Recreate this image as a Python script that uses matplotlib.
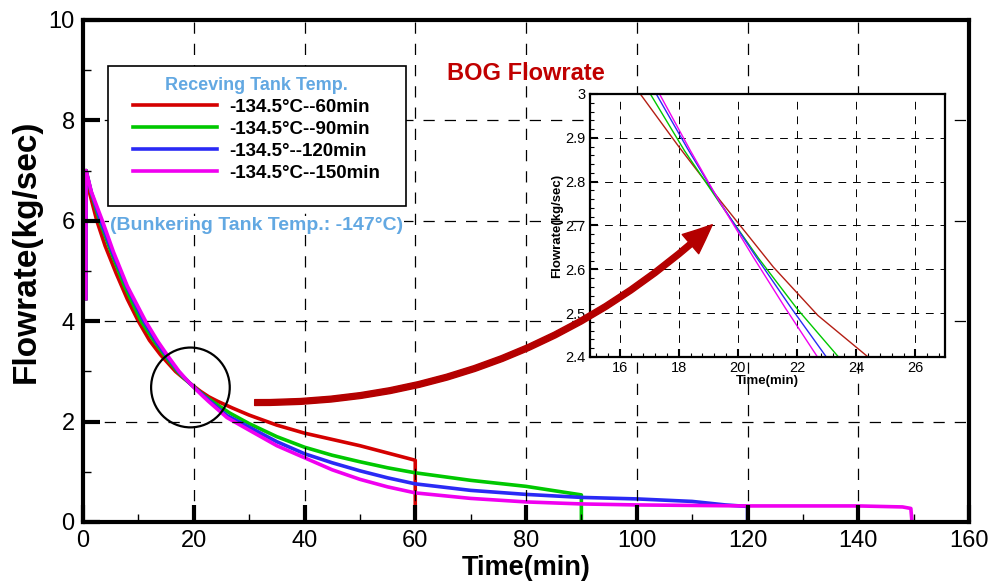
import matplotlib
matplotlib.use("Agg")
import matplotlib.pyplot as plt
from matplotlib.patches import Ellipse, FancyArrowPatch, Rectangle
from matplotlib.ticker import MultipleLocator

plt.rcParams["font.family"] = ["Liberation Sans", "DejaVu Sans"]

# --- data (time in min, flowrate in kg/sec) ---
t_60 = [0.5, 0.55, 1.2, 2.5, 4, 6, 8, 10, 12, 14, 16.7, 18.0, 19.4, 21.2, 22.7, 24.4,
        27, 30, 35, 40, 50, 60, 60]
q_60 = [4.45, 7.0, 6.55, 6.0, 5.5, 4.95, 4.44, 4.0, 3.62, 3.33, 3.0, 2.88, 2.757, 2.605, 2.495, 2.4,
        2.27, 2.13, 1.93, 1.77, 1.52, 1.23, 0]

t_90 = [0.5, 0.55, 1.5, 3.0, 5, 7.5, 10.5, 13, 15, 17.04, 18.2, 19.4, 20.7, 22.0, 23.4,
        26.5, 30, 35, 40, 45, 50, 55, 60, 70, 80, 90, 90]
q_90 = [4.45, 7.0, 6.55, 6.0, 5.4, 4.7, 4.0, 3.58, 3.28, 3.0, 2.87, 2.75, 2.625, 2.51, 2.4,
        2.17, 1.96, 1.70, 1.49, 1.33, 1.2, 1.08, 0.98, 0.83, 0.71, 0.54, 0]

t_120 = [0.5, 0.55, 1.5, 3.2, 5.5, 8, 11, 13.5, 15.5, 17.24, 18.3, 19.4, 20.6, 21.8, 22.99,
         26, 30, 35, 40, 45, 50, 55, 60, 70, 80, 90, 100, 110, 116, 120, 120]
q_120 = [4.45, 7.0, 6.57, 6.0, 5.32, 4.67, 4.0, 3.55, 3.25, 3.0, 2.875, 2.752, 2.63, 2.512, 2.4,
         2.12, 1.89, 1.6, 1.36, 1.18, 1.02, 0.88, 0.76, 0.63, 0.55, 0.49, 0.46, 0.41, 0.34, 0.31, 0]

t_150 = [0.5, 0.55, 1.5, 3.5, 5.5, 8, 11.3, 13.5, 15.5, 17.35, 18.4, 19.4, 20.5, 21.6, 22.69,
         26, 30, 35, 40, 45, 50, 55, 60, 70, 80, 90, 100, 120, 140, 148, 149.5, 149.7]
q_150 = [4.45, 7.0, 6.58, 6.0, 5.38, 4.7, 4.0, 3.6, 3.28, 3.0, 2.87, 2.752, 2.63, 2.512, 2.4,
         2.08, 1.83, 1.52, 1.28, 1.04, 0.85, 0.70, 0.58, 0.47, 0.40, 0.36, 0.34, 0.32, 0.32, 0.30, 0.27, 0]

series = [
    (t_60, q_60, "#d40000", "-134.5\u00b0C--60min"),
    (t_90, q_90, "#00c800", "-134.5\u00b0C--90min"),
    (t_120, q_120, "#2a2af5", "-134.5\u00b0--120min"),
    (t_150, q_150, "#f000f0", "-134.5\u00b0C--150min"),
]

LIGHT_BLUE = "#62a8e2"
DARK_RED = "#c00000"

fig = plt.figure(figsize=(9.99, 5.86), dpi=100)
ax = fig.add_axes([83 / 999, 1 - 522 / 586, 886 / 999, 502 / 586])
ax.set_axisbelow(False)  # ticks sit on top of the curves

for t, q, c, lab in series:
    ax.plot(t, q, color=c, lw=2.6, label=lab, solid_joinstyle="round")

ax.set_xlim(0, 160)
ax.set_ylim(0, 10)
ax.xaxis.set_major_locator(MultipleLocator(20))
ax.xaxis.set_minor_locator(MultipleLocator(10))
ax.yaxis.set_major_locator(MultipleLocator(2))
ax.yaxis.set_minor_locator(MultipleLocator(1))
ax.tick_params(which="major", direction="in", length=12, width=3, labelsize=17, pad=6)
ax.tick_params(which="minor", direction="in", length=6, width=1)
ax.grid(True, which="major", color="black", lw=0.9, ls=(0, (9, 8)))
for s in ax.spines.values():
    s.set_linewidth(3)
ax.set_xlabel("Time(min)", fontsize=19.5, fontweight="bold", labelpad=2)
ax.set_ylabel("Flowrate(kg/sec)", fontsize=24, fontweight="bold")
ax.yaxis.set_label_coords(-0.047, 0.54)

# legend: white box drawn separately so its padding can match the reference
ax.add_patch(Rectangle((108 / 999, 1 - 206 / 586), 298 / 999, 140 / 586,
                       transform=fig.transFigure, fc="white", ec="black", lw=1.2,
                       zorder=4.5, clip_on=False))
leg = ax.legend(loc="upper left", bbox_to_anchor=(133 / 999, 1 - 77 / 586),
                bbox_transform=fig.transFigure, borderaxespad=0, borderpad=0,
                title="Receving Tank Temp.", frameon=False,
                fontsize=13.5, handlelength=4.5, handletextpad=0.64,
                labelspacing=0.26)
leg.set_zorder(5)
leg.get_title().set_color(LIGHT_BLUE)
leg.get_title().set_fontweight("bold")
leg.get_title().set_fontsize(13)
for txt in leg.get_texts():
    txt.set_fontweight("bold")

ax.text(110 / 999, 1 - 225 / 586, "(Bunkering Tank Temp.: -147\u00b0C)",
        transform=fig.transFigure, color=LIGHT_BLUE, fontsize=14,
        fontweight="bold", va="center", ha="left", zorder=4,
        bbox=dict(fc="white", ec="none", pad=0.5))
ax.text(526 / 999, 1 - 73 / 586, "BOG Flowrate", transform=fig.transFigure,
        color=DARK_RED, fontsize=17, fontweight="bold", va="center", ha="center")

# circle marking the crossing point
ax.add_patch(Ellipse((19.4, 2.68), 14.2, 1.59, fill=False, ec="black", lw=1.6, zorder=5))

# inset with the zoomed crossing
ins = fig.add_axes([590 / 999, 1 - 357 / 586, 355 / 999, 263 / 586])
inset_colors = ["#b41e14", "#00c800", "#2a2af5", "#f000f0"]
for (t, q, c, lab), ic in zip(series, inset_colors):
    ins.plot(t, q, color=ic, lw=1.0)
ins.set_xlim(15, 27)
ins.set_ylim(2.4, 3.0)
ins.xaxis.set_major_locator(MultipleLocator(2))
ins.xaxis.set_minor_locator(MultipleLocator(0.4))
ins.yaxis.set_major_locator(MultipleLocator(0.1))
ins.yaxis.set_minor_locator(MultipleLocator(0.02))
ins.yaxis.set_major_formatter(lambda v, p: f"{v:g}")
ins.tick_params(which="major", direction="in", length=6, width=1.5, labelsize=10.5, pad=3)
ins.tick_params(which="minor", direction="in", length=3, width=0.8)
ins.grid(True, which="major", color="black", lw=0.7, ls=(0, (8, 7)))
for s in ins.spines.values():
    s.set_linewidth(1.6)
ins.set_xlabel("Time(min)", fontsize=9.5, fontweight="bold", labelpad=0)
ins.set_ylabel("Flowrate(kg/sec)", fontsize=9.5, fontweight="bold", labelpad=2)

# curved arrow from the circle to the inset
arrow = FancyArrowPatch((30.5, 2.38), (114, 5.96), transform=ax.transData,
                        connectionstyle="arc3,rad=0.2",
                        arrowstyle="simple,head_width=1.3,head_length=1.5,tail_width=0.3",
                        mutation_scale=14, color="#b40000", zorder=6, clip_on=False)
fig.add_artist(arrow)

fig.savefig("out.png", dpi=100)
